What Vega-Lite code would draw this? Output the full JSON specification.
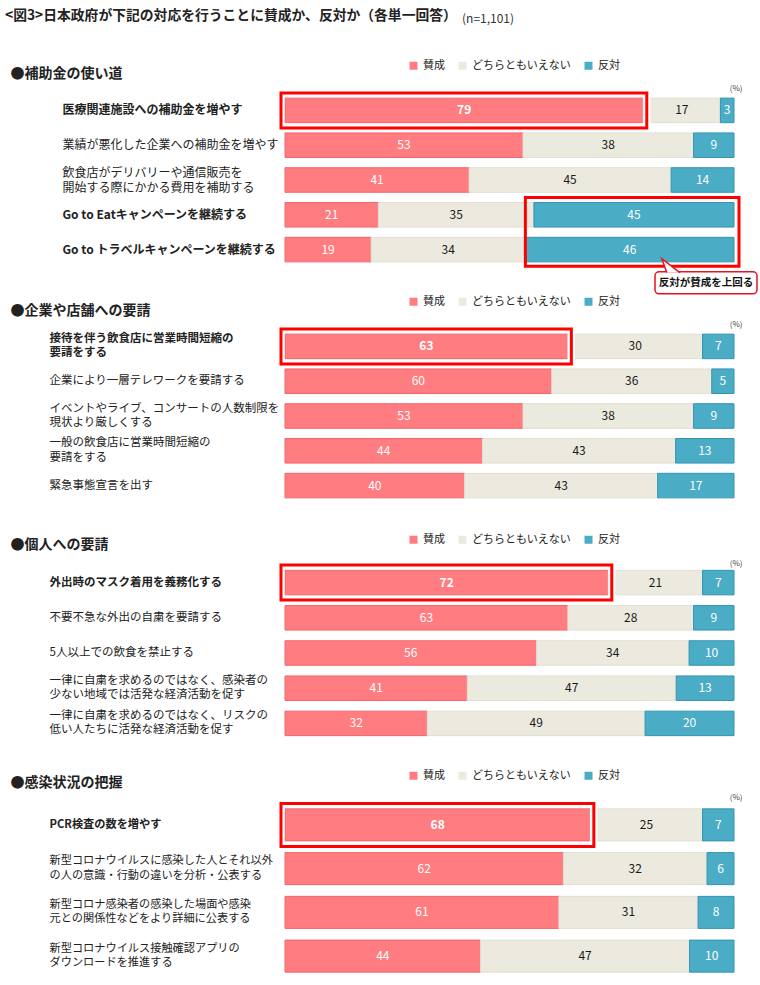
{
  "$schema": "https://vega.github.io/schema/vega-lite/v6.json",
  "background": "white",
  "padding": {"left": 5, "top": 8, "right": 0, "bottom": 0},
  "autosize": {"type": "pad"},
  "title": {"text": "<図3>日本政府が下記の対応を行うことに賛成か、反対か（各単一回答）", "anchor": "start", "frame": "bounds", "fontSize": 13.8, "fontWeight": "bold", "color": "#222", "font": "Noto Sans CJK JP", "offset": 0, "dx": -5, "dy": 9},
  "config": {"view": {"stroke": null}, "font": "Noto Sans CJK JP", "axis": {"grid": false}},
  "datasets": {
    "d": [
      {"s": "s1", "item": "医療関連施設への補助金を増やす", "cat": "賛成", "value": 79, "ord": 1, "hl": true},
      {"s": "s1", "item": "医療関連施設への補助金を増やす", "cat": "どちらともいえない", "value": 17, "ord": 2, "hl": true},
      {"s": "s1", "item": "医療関連施設への補助金を増やす", "cat": "反対", "value": 3, "ord": 3, "hl": true},
      {"s": "s1", "item": "業績が悪化した企業への補助金を増やす", "cat": "賛成", "value": 53, "ord": 1, "hl": false},
      {"s": "s1", "item": "業績が悪化した企業への補助金を増やす", "cat": "どちらともいえない", "value": 38, "ord": 2, "hl": false},
      {"s": "s1", "item": "業績が悪化した企業への補助金を増やす", "cat": "反対", "value": 9, "ord": 3, "hl": false},
      {"s": "s1", "item": "飲食店がデリバリーや通信販売を|開始する際にかかる費用を補助する", "cat": "賛成", "value": 41, "ord": 1, "hl": false},
      {"s": "s1", "item": "飲食店がデリバリーや通信販売を|開始する際にかかる費用を補助する", "cat": "どちらともいえない", "value": 45, "ord": 2, "hl": false},
      {"s": "s1", "item": "飲食店がデリバリーや通信販売を|開始する際にかかる費用を補助する", "cat": "反対", "value": 14, "ord": 3, "hl": false},
      {"s": "s1", "item": "Go to Eatキャンペーンを継続する", "cat": "賛成", "value": 21, "ord": 1, "hl": false},
      {"s": "s1", "item": "Go to Eatキャンペーンを継続する", "cat": "どちらともいえない", "value": 35, "ord": 2, "hl": false},
      {"s": "s1", "item": "Go to Eatキャンペーンを継続する", "cat": "反対", "value": 45, "ord": 3, "hl": false},
      {"s": "s1", "item": "Go to トラベルキャンペーンを継続する", "cat": "賛成", "value": 19, "ord": 1, "hl": false},
      {"s": "s1", "item": "Go to トラベルキャンペーンを継続する", "cat": "どちらともいえない", "value": 34, "ord": 2, "hl": false},
      {"s": "s1", "item": "Go to トラベルキャンペーンを継続する", "cat": "反対", "value": 46, "ord": 3, "hl": false},

      {"s": "s2", "item": "接待を伴う飲食店に営業時間短縮の|要請をする", "cat": "賛成", "value": 63, "ord": 1, "hl": true},
      {"s": "s2", "item": "接待を伴う飲食店に営業時間短縮の|要請をする", "cat": "どちらともいえない", "value": 30, "ord": 2, "hl": true},
      {"s": "s2", "item": "接待を伴う飲食店に営業時間短縮の|要請をする", "cat": "反対", "value": 7, "ord": 3, "hl": true},
      {"s": "s2", "item": "企業により一層テレワークを要請する", "cat": "賛成", "value": 60, "ord": 1, "hl": false},
      {"s": "s2", "item": "企業により一層テレワークを要請する", "cat": "どちらともいえない", "value": 36, "ord": 2, "hl": false},
      {"s": "s2", "item": "企業により一層テレワークを要請する", "cat": "反対", "value": 5, "ord": 3, "hl": false},
      {"s": "s2", "item": "イベントやライブ、コンサートの人数制限を|現状より厳しくする", "cat": "賛成", "value": 53, "ord": 1, "hl": false},
      {"s": "s2", "item": "イベントやライブ、コンサートの人数制限を|現状より厳しくする", "cat": "どちらともいえない", "value": 38, "ord": 2, "hl": false},
      {"s": "s2", "item": "イベントやライブ、コンサートの人数制限を|現状より厳しくする", "cat": "反対", "value": 9, "ord": 3, "hl": false},
      {"s": "s2", "item": "一般の飲食店に営業時間短縮の|要請をする", "cat": "賛成", "value": 44, "ord": 1, "hl": false},
      {"s": "s2", "item": "一般の飲食店に営業時間短縮の|要請をする", "cat": "どちらともいえない", "value": 43, "ord": 2, "hl": false},
      {"s": "s2", "item": "一般の飲食店に営業時間短縮の|要請をする", "cat": "反対", "value": 13, "ord": 3, "hl": false},
      {"s": "s2", "item": "緊急事態宣言を出す", "cat": "賛成", "value": 40, "ord": 1, "hl": false},
      {"s": "s2", "item": "緊急事態宣言を出す", "cat": "どちらともいえない", "value": 43, "ord": 2, "hl": false},
      {"s": "s2", "item": "緊急事態宣言を出す", "cat": "反対", "value": 17, "ord": 3, "hl": false},

      {"s": "s3", "item": "外出時のマスク着用を義務化する", "cat": "賛成", "value": 72, "ord": 1, "hl": true},
      {"s": "s3", "item": "外出時のマスク着用を義務化する", "cat": "どちらともいえない", "value": 21, "ord": 2, "hl": true},
      {"s": "s3", "item": "外出時のマスク着用を義務化する", "cat": "反対", "value": 7, "ord": 3, "hl": true},
      {"s": "s3", "item": "不要不急な外出の自粛を要請する", "cat": "賛成", "value": 63, "ord": 1, "hl": false},
      {"s": "s3", "item": "不要不急な外出の自粛を要請する", "cat": "どちらともいえない", "value": 28, "ord": 2, "hl": false},
      {"s": "s3", "item": "不要不急な外出の自粛を要請する", "cat": "反対", "value": 9, "ord": 3, "hl": false},
      {"s": "s3", "item": "5人以上での飲食を禁止する", "cat": "賛成", "value": 56, "ord": 1, "hl": false},
      {"s": "s3", "item": "5人以上での飲食を禁止する", "cat": "どちらともいえない", "value": 34, "ord": 2, "hl": false},
      {"s": "s3", "item": "5人以上での飲食を禁止する", "cat": "反対", "value": 10, "ord": 3, "hl": false},
      {"s": "s3", "item": "一律に自粛を求めるのではなく、感染者の|少ない地域では活発な経済活動を促す", "cat": "賛成", "value": 41, "ord": 1, "hl": false},
      {"s": "s3", "item": "一律に自粛を求めるのではなく、感染者の|少ない地域では活発な経済活動を促す", "cat": "どちらともいえない", "value": 47, "ord": 2, "hl": false},
      {"s": "s3", "item": "一律に自粛を求めるのではなく、感染者の|少ない地域では活発な経済活動を促す", "cat": "反対", "value": 13, "ord": 3, "hl": false},
      {"s": "s3", "item": "一律に自粛を求めるのではなく、リスクの|低い人たちに活発な経済活動を促す", "cat": "賛成", "value": 32, "ord": 1, "hl": false},
      {"s": "s3", "item": "一律に自粛を求めるのではなく、リスクの|低い人たちに活発な経済活動を促す", "cat": "どちらともいえない", "value": 49, "ord": 2, "hl": false},
      {"s": "s3", "item": "一律に自粛を求めるのではなく、リスクの|低い人たちに活発な経済活動を促す", "cat": "反対", "value": 20, "ord": 3, "hl": false},

      {"s": "s4", "item": "PCR検査の数を増やす", "cat": "賛成", "value": 68, "ord": 1, "hl": true},
      {"s": "s4", "item": "PCR検査の数を増やす", "cat": "どちらともいえない", "value": 25, "ord": 2, "hl": true},
      {"s": "s4", "item": "PCR検査の数を増やす", "cat": "反対", "value": 7, "ord": 3, "hl": true},
      {"s": "s4", "item": "新型コロナウイルスに感染した人とそれ以外|の人の意識・行動の違いを分析・公表する", "cat": "賛成", "value": 62, "ord": 1, "hl": false},
      {"s": "s4", "item": "新型コロナウイルスに感染した人とそれ以外|の人の意識・行動の違いを分析・公表する", "cat": "どちらともいえない", "value": 32, "ord": 2, "hl": false},
      {"s": "s4", "item": "新型コロナウイルスに感染した人とそれ以外|の人の意識・行動の違いを分析・公表する", "cat": "反対", "value": 6, "ord": 3, "hl": false},
      {"s": "s4", "item": "新型コロナ感染者の感染した場面や感染|元との関係性などをより詳細に公表する", "cat": "賛成", "value": 61, "ord": 1, "hl": false},
      {"s": "s4", "item": "新型コロナ感染者の感染した場面や感染|元との関係性などをより詳細に公表する", "cat": "どちらともいえない", "value": 31, "ord": 2, "hl": false},
      {"s": "s4", "item": "新型コロナ感染者の感染した場面や感染|元との関係性などをより詳細に公表する", "cat": "反対", "value": 8, "ord": 3, "hl": false},
      {"s": "s4", "item": "新型コロナウイルス接触確認アプリの|ダウンロードを推進する", "cat": "賛成", "value": 44, "ord": 1, "hl": false},
      {"s": "s4", "item": "新型コロナウイルス接触確認アプリの|ダウンロードを推進する", "cat": "どちらともいえない", "value": 47, "ord": 2, "hl": false},
      {"s": "s4", "item": "新型コロナウイルス接触確認アプリの|ダウンロードを推進する", "cat": "反対", "value": 10, "ord": 3, "hl": false}
    ]
  },
  "spacing": 62,
  "bounds": "flush",
  "resolve": {"scale": {"color": "independent", "y": "independent", "x": "independent"}, "legend": {"color": "independent"}},
  "vconcat": [
    {
      "title": {"text": "(n=1,101)", "anchor": "start", "frame": "group", "dx": 177, "dy": -33.6, "fontSize": 12, "fontWeight": "normal", "color": "#333", "offset": 0},
      "width": 449, "height": 174,
      "data": {"name": "d"},
      "transform": [
        {"filter": "datum.s == 's1'"},
        {"stack": "value", "groupby": ["item"], "sort": [{"field": "ord", "order": "ascending"}], "offset": "normalize", "as": ["x0", "x1"]},
        {"calculate": "(datum.x0 + datum.x1) / 2", "as": "xm"}
      ],
      "encoding": {
        "y": {"field": "item", "type": "nominal", "sort": null,
          "scale": {"paddingInner": 0.295, "paddingOuter": 0.1475},
          "axis": {"title": "●補助金の使い道", "titleAngle": 0, "titleAlign": "left", "titleBaseline": "middle", "titleX": -275, "titleY": -19.6, "titleFontSize": 14, "titleFontWeight": "bold", "titleColor": "#222",
            "labelAlign": "left", "labelBaseline": "middle", "labelPadding": 223, "labelFontSize": 12, "labelColor": "#222", "labelLimit": 300, "labelLineHeight": 15,
            "labelExpr": "split(datum.label, '|')",
            "labelOffset": {"condition": {"test": "indexof(datum.value, '|') >= 0", "value": -7.5}, "value": 0},
            "labelFontWeight": {"condition": {"test": "indexof(['医療関連施設への補助金を増やす','Go to Eatキャンペーンを継続する','Go to トラベルキャンペーンを継続する'], datum.value) >= 0", "value": "bold"}, "value": "normal"},
            "ticks": false, "tickSize": 0, "domain": false}}
      },
      "layer": [
        {
          "mark": {"type": "bar", "strokeWidth": 1},
          "encoding": {
            "x": {"field": "x0", "type": "quantitative", "scale": {"domain": [0, 1], "nice": false, "zero": false},
              "axis": {"orient": "top", "labels": false, "ticks": false, "domain": false, "grid": false, "title": "(%)", "titleFontSize": 8, "titleFontWeight": "normal", "titleColor": "#444", "titleX": 457, "titleY": -4.6, "titleAlign": "right", "titleBaseline": "middle"}},
            "x2": {"field": "x1"},
            "color": {"field": "cat", "type": "nominal", "scale": {"domain": ["賛成", "どちらともいえない", "反対"], "range": ["#FF7C80", "#ECEADF", "#4BACC6"]},
              "legend": {"orient": "none", "legendX": 123, "legendY": -33, "direction": "horizontal", "title": null, "symbolType": "square", "symbolSize": 64, "symbolStrokeWidth": 0, "labelFontSize": 11, "labelColor": "#222", "columnPadding": 12, "labelOffset": 4}},
            "stroke": {"condition": [{"test": "datum.cat == '賛成'", "value": "#F4646D"}, {"test": "datum.cat == '反対'", "value": "#3194B3"}], "value": "#E2DFD2"}
          }
        },
        {
          "transform": [{"filter": "datum.hl && datum.cat == '賛成'"}],
          "mark": {"type": "bar", "size": 35, "fillOpacity": 0, "stroke": "white", "strokeWidth": 7, "xOffset": -4, "x2Offset": 3.5},
          "encoding": {"x": {"field": "x0", "type": "quantitative"}, "x2": {"field": "x1"}}
        },
        {
          "transform": [{"filter": "datum.hl && datum.cat == '賛成'"}],
          "mark": {"type": "bar", "size": 35, "fillOpacity": 0, "stroke": "#FF0000", "strokeWidth": 3, "xOffset": -4, "x2Offset": 3.5},
          "encoding": {"x": {"field": "x0", "type": "quantitative"}, "x2": {"field": "x1"}}
        },
        {
          "transform": [
            {"filter": "datum.cat == '反対' && indexof(datum.item, 'Go to') == 0"},
            {"joinaggregate": [{"op": "min", "field": "x0", "as": "bx0"}]},
            {"filter": "datum.item == 'Go to Eatキャンペーンを継続する'"}
          ],
          "mark": {"type": "rect", "fillOpacity": 0, "stroke": "#FF0000", "strokeWidth": 3, "x2Offset": 5, "yOffset": -5, "y2Offset": 4.5},
          "encoding": {
            "x": {"field": "bx0", "type": "quantitative"},
            "x2": {"datum": 1},
            "y": {"field": "item", "type": "nominal", "sort": null, "bandPosition": 0},
            "y2": {"datum": "Go to トラベルキャンペーンを継続する", "bandPosition": 1}
          }
        },
        {
          "transform": [{"filter": "!(datum.hl && datum.cat == '賛成')"}],
          "mark": {"type": "text", "fontSize": 12},
          "encoding": {"x": {"field": "xm", "type": "quantitative"}, "text": {"field": "value"},
            "color": {"condition": {"test": "datum.cat == 'どちらともいえない'", "value": "#1a1a1a"}, "value": "#FFFFFF"}}
        },
        {
          "transform": [{"filter": "datum.hl && datum.cat == '賛成'"}],
          "mark": {"type": "text", "fontSize": 12, "fontWeight": "bold", "color": "#FFFFFF"},
          "encoding": {"x": {"field": "xm", "type": "quantitative"}, "text": {"field": "value"}}
        },
        {
          "transform": [{"filter": "datum.cat == '反対' && datum.item == 'Go to トラベルキャンペーンを継続する'"}],
          "mark": {"type": "rect", "fill": "white", "stroke": "#E8141C", "strokeWidth": 1.5, "cornerRadius": 4, "yOffset": 10, "y2Offset": 32},
          "encoding": {
            "x": {"datum": 0.8241, "type": "quantitative"},
            "x2": {"datum": 1.0512},
            "y": {"field": "item", "type": "nominal", "sort": null, "bandPosition": 1},
            "y2": {"field": "item", "bandPosition": 1}
          }
        },
        {
          "transform": [{"filter": "datum.cat == '反対' && datum.item == 'Go to トラベルキャンペーンを継続する'"}],
          "mark": {"type": "point", "shape": "M-0.3,0.7L-0.8,-0.7L1,0.7", "size": 400, "filled": true, "fill": "white", "stroke": "#E8141C", "strokeWidth": 1.5, "opacity": 1, "fillOpacity": 1, "yOffset": 16},
          "encoding": {"x": {"datum": 0.857, "type": "quantitative"}}
        },
        {
          "transform": [{"filter": "datum.cat == '反対' && datum.item == 'Go to トラベルキャンペーンを継続する'"}],
          "mark": {"type": "text", "text": "反対が賛成を上回る", "fontSize": 10.5, "fontWeight": "bold", "color": "#111", "yOffset": 33},
          "encoding": {"x": {"datum": 0.9376, "type": "quantitative"}}
        }
      ]
    },
    {
      "width": 449, "height": 174,
      "data": {"name": "d"},
      "transform": [
        {"filter": "datum.s == 's2'"},
        {"stack": "value", "groupby": ["item"], "sort": [{"field": "ord", "order": "ascending"}], "offset": "normalize", "as": ["x0", "x1"]},
        {"calculate": "(datum.x0 + datum.x1) / 2", "as": "xm"}
      ],
      "encoding": {
        "y": {"field": "item", "type": "nominal", "sort": null,
          "scale": {"paddingInner": 0.295, "paddingOuter": 0.1475},
          "axis": {"title": "●企業や店舗への要請", "titleAngle": 0, "titleAlign": "left", "titleBaseline": "middle", "titleX": -275, "titleY": -18.6, "titleFontSize": 14, "titleFontWeight": "bold", "titleColor": "#222",
            "labelAlign": "left", "labelBaseline": "middle", "labelPadding": 236, "labelFontSize": 11.5, "labelColor": "#222", "labelLimit": 300, "labelLineHeight": 14.5,
            "labelExpr": "split(datum.label, '|')",
            "labelOffset": {"condition": {"test": "indexof(datum.value, '|') >= 0", "value": -7.5}, "value": 0},
            "labelFontWeight": {"condition": {"test": "datum.value == '接待を伴う飲食店に営業時間短縮の|要請をする'", "value": "bold"}, "value": "normal"},
            "ticks": false, "tickSize": 0, "domain": false}}
      },
      "layer": [
        {
          "mark": {"type": "bar", "strokeWidth": 1},
          "encoding": {
            "x": {"field": "x0", "type": "quantitative", "scale": {"domain": [0, 1], "nice": false, "zero": false},
              "axis": {"orient": "top", "labels": false, "ticks": false, "domain": false, "grid": false, "title": "(%)", "titleFontSize": 8, "titleFontWeight": "normal", "titleColor": "#444", "titleX": 457, "titleY": -4.6, "titleAlign": "right", "titleBaseline": "middle"}},
            "x2": {"field": "x1"},
            "color": {"field": "cat", "type": "nominal", "scale": {"domain": ["賛成", "どちらともいえない", "反対"], "range": ["#FF7C80", "#ECEADF", "#4BACC6"]},
              "legend": {"orient": "none", "legendX": 123, "legendY": -33, "direction": "horizontal", "title": null, "symbolType": "square", "symbolSize": 64, "symbolStrokeWidth": 0, "labelFontSize": 11, "labelColor": "#222", "columnPadding": 12, "labelOffset": 4}},
            "stroke": {"condition": [{"test": "datum.cat == '賛成'", "value": "#F4646D"}, {"test": "datum.cat == '反対'", "value": "#3194B3"}], "value": "#E2DFD2"}
          }
        },
        {
          "transform": [{"filter": "datum.hl && datum.cat == '賛成'"}],
          "mark": {"type": "bar", "size": 35, "fillOpacity": 0, "stroke": "white", "strokeWidth": 7, "xOffset": -4, "x2Offset": 3.5},
          "encoding": {"x": {"field": "x0", "type": "quantitative"}, "x2": {"field": "x1"}}
        },
        {
          "transform": [{"filter": "datum.hl && datum.cat == '賛成'"}],
          "mark": {"type": "bar", "size": 35, "fillOpacity": 0, "stroke": "#FF0000", "strokeWidth": 3, "xOffset": -4, "x2Offset": 3.5},
          "encoding": {"x": {"field": "x0", "type": "quantitative"}, "x2": {"field": "x1"}}
        },
        {
          "transform": [{"filter": "!(datum.hl && datum.cat == '賛成')"}],
          "mark": {"type": "text", "fontSize": 12},
          "encoding": {"x": {"field": "xm", "type": "quantitative"}, "text": {"field": "value"},
            "color": {"condition": {"test": "datum.cat == 'どちらともいえない'", "value": "#1a1a1a"}, "value": "#FFFFFF"}}
        },
        {
          "transform": [{"filter": "datum.hl && datum.cat == '賛成'"}],
          "mark": {"type": "text", "fontSize": 12, "fontWeight": "bold", "color": "#FFFFFF"},
          "encoding": {"x": {"field": "xm", "type": "quantitative"}, "text": {"field": "value"}}
        }
      ]
    },
    {
      "width": 449, "height": 176,
      "data": {"name": "d"},
      "transform": [
        {"filter": "datum.s == 's3'"},
        {"stack": "value", "groupby": ["item"], "sort": [{"field": "ord", "order": "ascending"}], "offset": "normalize", "as": ["x0", "x1"]},
        {"calculate": "(datum.x0 + datum.x1) / 2", "as": "xm"}
      ],
      "encoding": {
        "y": {"field": "item", "type": "nominal", "sort": null,
          "scale": {"paddingInner": 0.304, "paddingOuter": 0.152},
          "axis": {"title": "●個人への要請", "titleAngle": 0, "titleAlign": "left", "titleBaseline": "middle", "titleX": -275, "titleY": -20.4, "titleFontSize": 14, "titleFontWeight": "bold", "titleColor": "#222",
            "labelAlign": "left", "labelBaseline": "middle", "labelPadding": 236, "labelFontSize": 11.5, "labelColor": "#222", "labelLimit": 300, "labelLineHeight": 14.5,
            "labelExpr": "split(datum.label, '|')",
            "labelOffset": {"condition": {"test": "indexof(datum.value, '|') >= 0", "value": -7.5}, "value": 0},
            "labelFontWeight": {"condition": {"test": "datum.value == '外出時のマスク着用を義務化する'", "value": "bold"}, "value": "normal"},
            "ticks": false, "tickSize": 0, "domain": false}}
      },
      "layer": [
        {
          "mark": {"type": "bar", "strokeWidth": 1},
          "encoding": {
            "x": {"field": "x0", "type": "quantitative", "scale": {"domain": [0, 1], "nice": false, "zero": false},
              "axis": {"orient": "top", "labels": false, "ticks": false, "domain": false, "grid": false, "title": "(%)", "titleFontSize": 8, "titleFontWeight": "normal", "titleColor": "#444", "titleX": 457, "titleY": -2, "titleAlign": "right", "titleBaseline": "middle"}},
            "x2": {"field": "x1"},
            "color": {"field": "cat", "type": "nominal", "scale": {"domain": ["賛成", "どちらともいえない", "反対"], "range": ["#FF7C80", "#ECEADF", "#4BACC6"]},
              "legend": {"orient": "none", "legendX": 123, "legendY": -31, "direction": "horizontal", "title": null, "symbolType": "square", "symbolSize": 64, "symbolStrokeWidth": 0, "labelFontSize": 11, "labelColor": "#222", "columnPadding": 12, "labelOffset": 4}},
            "stroke": {"condition": [{"test": "datum.cat == '賛成'", "value": "#F4646D"}, {"test": "datum.cat == '反対'", "value": "#3194B3"}], "value": "#E2DFD2"}
          }
        },
        {
          "transform": [{"filter": "datum.hl && datum.cat == '賛成'"}],
          "mark": {"type": "bar", "size": 35, "fillOpacity": 0, "stroke": "white", "strokeWidth": 7, "xOffset": -4, "x2Offset": 3.5},
          "encoding": {"x": {"field": "x0", "type": "quantitative"}, "x2": {"field": "x1"}}
        },
        {
          "transform": [{"filter": "datum.hl && datum.cat == '賛成'"}],
          "mark": {"type": "bar", "size": 35, "fillOpacity": 0, "stroke": "#FF0000", "strokeWidth": 3, "xOffset": -4, "x2Offset": 3.5},
          "encoding": {"x": {"field": "x0", "type": "quantitative"}, "x2": {"field": "x1"}}
        },
        {
          "transform": [{"filter": "!(datum.hl && datum.cat == '賛成')"}],
          "mark": {"type": "text", "fontSize": 12},
          "encoding": {"x": {"field": "xm", "type": "quantitative"}, "text": {"field": "value"},
            "color": {"condition": {"test": "datum.cat == 'どちらともいえない'", "value": "#1a1a1a"}, "value": "#FFFFFF"}}
        },
        {
          "transform": [{"filter": "datum.hl && datum.cat == '賛成'"}],
          "mark": {"type": "text", "fontSize": 12, "fontWeight": "bold", "color": "#FFFFFF"},
          "encoding": {"x": {"field": "xm", "type": "quantitative"}, "text": {"field": "value"}}
        }
      ]
    },
    {
      "width": 449, "height": 175,
      "data": {"name": "d"},
      "transform": [
        {"filter": "datum.s == 's4'"},
        {"stack": "value", "groupby": ["item"], "sort": [{"field": "ord", "order": "ascending"}], "offset": "normalize", "as": ["x0", "x1"]},
        {"calculate": "(datum.x0 + datum.x1) / 2", "as": "xm"}
      ],
      "encoding": {
        "y": {"field": "item", "type": "nominal", "sort": null,
          "scale": {"paddingInner": 0.268, "paddingOuter": 0.134},
          "axis": {"title": "●感染状況の把握", "titleAngle": 0, "titleAlign": "left", "titleBaseline": "middle", "titleX": -275, "titleY": -20.1, "titleFontSize": 14, "titleFontWeight": "bold", "titleColor": "#222",
            "labelAlign": "left", "labelBaseline": "middle", "labelPadding": 236, "labelFontSize": 11.2, "labelColor": "#222", "labelLimit": 300, "labelLineHeight": 14.5,
            "labelExpr": "split(datum.label, '|')",
            "labelOffset": {"condition": {"test": "indexof(datum.value, '|') >= 0", "value": -7.5}, "value": 0},
            "labelFontWeight": {"condition": {"test": "datum.value == 'PCR検査の数を増やす'", "value": "bold"}, "value": "normal"},
            "ticks": false, "tickSize": 0, "domain": false}}
      },
      "layer": [
        {
          "mark": {"type": "bar", "strokeWidth": 1},
          "encoding": {
            "x": {"field": "x0", "type": "quantitative", "scale": {"domain": [0, 1], "nice": false, "zero": false},
              "axis": {"orient": "top", "labels": false, "ticks": false, "domain": false, "grid": false, "title": "(%)", "titleFontSize": 8, "titleFontWeight": "normal", "titleColor": "#444", "titleX": 457, "titleY": -5.5, "titleAlign": "right", "titleBaseline": "middle"}},
            "x2": {"field": "x1"},
            "color": {"field": "cat", "type": "nominal", "scale": {"domain": ["賛成", "どちらともいえない", "反対"], "range": ["#FF7C80", "#ECEADF", "#4BACC6"]},
              "legend": {"orient": "none", "legendX": 123, "legendY": -33, "direction": "horizontal", "title": null, "symbolType": "square", "symbolSize": 64, "symbolStrokeWidth": 0, "labelFontSize": 11, "labelColor": "#222", "columnPadding": 12, "labelOffset": 4}},
            "stroke": {"condition": [{"test": "datum.cat == '賛成'", "value": "#F4646D"}, {"test": "datum.cat == '反対'", "value": "#3194B3"}], "value": "#E2DFD2"}
          }
        },
        {
          "transform": [{"filter": "datum.hl && datum.cat == '賛成'"}],
          "mark": {"type": "bar", "size": 43, "fillOpacity": 0, "stroke": "white", "strokeWidth": 7, "xOffset": -4, "x2Offset": 3.5},
          "encoding": {"x": {"field": "x0", "type": "quantitative"}, "x2": {"field": "x1"}}
        },
        {
          "transform": [{"filter": "datum.hl && datum.cat == '賛成'"}],
          "mark": {"type": "bar", "size": 43, "fillOpacity": 0, "stroke": "#FF0000", "strokeWidth": 3, "xOffset": -4, "x2Offset": 3.5},
          "encoding": {"x": {"field": "x0", "type": "quantitative"}, "x2": {"field": "x1"}}
        },
        {
          "transform": [{"filter": "!(datum.hl && datum.cat == '賛成')"}],
          "mark": {"type": "text", "fontSize": 12},
          "encoding": {"x": {"field": "xm", "type": "quantitative"}, "text": {"field": "value"},
            "color": {"condition": {"test": "datum.cat == 'どちらともいえない'", "value": "#1a1a1a"}, "value": "#FFFFFF"}}
        },
        {
          "transform": [{"filter": "datum.hl && datum.cat == '賛成'"}],
          "mark": {"type": "text", "fontSize": 12, "fontWeight": "bold", "color": "#FFFFFF"},
          "encoding": {"x": {"field": "xm", "type": "quantitative"}, "text": {"field": "value"}}
        }
      ]
    }
  ]
}
